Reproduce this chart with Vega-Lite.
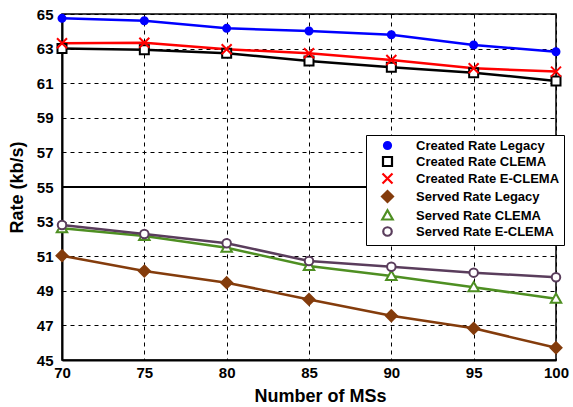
{
  "$schema": "https://vega.github.io/schema/vega-lite/v6.json",
  "width": 494,
  "height": 346,
  "autosize": {"type": "none"},
  "padding": {"left": 62, "top": 14, "right": 17, "bottom": 47},
  "config": {
    "font": "Liberation Sans",
    "view": {"stroke": "#000000", "strokeWidth": 1.5},
    "axis": {
      "labelFont": "Liberation Sans",
      "labelFontWeight": "bold",
      "labelFontSize": 15,
      "labelColor": "#000000",
      "labelFlush": false,
      "titleFont": "Liberation Sans",
      "titleFontWeight": "bold",
      "titleFontSize": 18,
      "titleColor": "#000000",
      "grid": true,
      "gridColor": "#000000",
      "gridDash": [4, 4],
      "gridWidth": 1,
      "gridOpacity": 1,
      "ticks": false,
      "domainColor": "#000000",
      "domainWidth": 2
    }
  },
  "data": {
    "values": [
      {"x": 70, "series": "Created Rate Legacy", "v": 64.75},
      {"x": 75, "series": "Created Rate Legacy", "v": 64.61},
      {"x": 80, "series": "Created Rate Legacy", "v": 64.17},
      {"x": 85, "series": "Created Rate Legacy", "v": 64.02},
      {"x": 90, "series": "Created Rate Legacy", "v": 63.8},
      {"x": 95, "series": "Created Rate Legacy", "v": 63.21},
      {"x": 100, "series": "Created Rate Legacy", "v": 62.82},
      {"x": 70, "series": "Created Rate CLEMA", "v": 63.0},
      {"x": 75, "series": "Created Rate CLEMA", "v": 62.93},
      {"x": 80, "series": "Created Rate CLEMA", "v": 62.73},
      {"x": 85, "series": "Created Rate CLEMA", "v": 62.28},
      {"x": 90, "series": "Created Rate CLEMA", "v": 61.92},
      {"x": 95, "series": "Created Rate CLEMA", "v": 61.61},
      {"x": 100, "series": "Created Rate CLEMA", "v": 61.13},
      {"x": 70, "series": "Created Rate E-CLEMA", "v": 63.31},
      {"x": 75, "series": "Created Rate E-CLEMA", "v": 63.34},
      {"x": 80, "series": "Created Rate E-CLEMA", "v": 62.96},
      {"x": 85, "series": "Created Rate E-CLEMA", "v": 62.73},
      {"x": 90, "series": "Created Rate E-CLEMA", "v": 62.34},
      {"x": 95, "series": "Created Rate E-CLEMA", "v": 61.86},
      {"x": 100, "series": "Created Rate E-CLEMA", "v": 61.67},
      {"x": 70, "series": "Served Rate Legacy", "v": 51.03},
      {"x": 75, "series": "Served Rate Legacy", "v": 50.14},
      {"x": 80, "series": "Served Rate Legacy", "v": 49.47},
      {"x": 85, "series": "Served Rate Legacy", "v": 48.5},
      {"x": 90, "series": "Served Rate Legacy", "v": 47.56},
      {"x": 95, "series": "Served Rate Legacy", "v": 46.83},
      {"x": 100, "series": "Served Rate Legacy", "v": 45.71},
      {"x": 70, "series": "Served Rate CLEMA", "v": 52.61},
      {"x": 75, "series": "Served Rate CLEMA", "v": 52.17},
      {"x": 80, "series": "Served Rate CLEMA", "v": 51.49},
      {"x": 85, "series": "Served Rate CLEMA", "v": 50.43},
      {"x": 90, "series": "Served Rate CLEMA", "v": 49.86},
      {"x": 95, "series": "Served Rate CLEMA", "v": 49.2},
      {"x": 100, "series": "Served Rate CLEMA", "v": 48.54},
      {"x": 70, "series": "Served Rate E-CLEMA", "v": 52.8},
      {"x": 75, "series": "Served Rate E-CLEMA", "v": 52.28},
      {"x": 80, "series": "Served Rate E-CLEMA", "v": 51.75},
      {"x": 85, "series": "Served Rate E-CLEMA", "v": 50.72},
      {"x": 90, "series": "Served Rate E-CLEMA", "v": 50.39},
      {"x": 95, "series": "Served Rate E-CLEMA", "v": 50.05},
      {"x": 100, "series": "Served Rate E-CLEMA", "v": 49.78}
    ]
  },
  "encoding": {
    "x": {
      "field": "x",
      "type": "quantitative",
      "scale": {"domain": [70, 100], "nice": false, "zero": false},
      "axis": {
        "values": [70, 75, 80, 85, 90, 95, 100],
        "title": "Number of MSs",
        "labelPadding": 5,
        "titleX": 258,
        "titleY": 27,
        "titleBaseline": "top"
      }
    },
    "y": {
      "field": "v",
      "type": "quantitative",
      "scale": {"domain": [45, 65], "nice": false, "zero": false},
      "axis": {
        "values": [45, 47, 49, 51, 53, 55, 57, 59, 61, 63, 65],
        "title": "Rate (kb/s)",
        "labelPadding": 9,
        "titleX": -36,
        "titleBaseline": "bottom"
      }
    }
  },
  "layer": [
    {
      "mark": {"type": "rule", "color": "#000000", "strokeWidth": 1.2},
      "encoding": {"y": {"datum": 55}, "x": {"value": 0}, "x2": {"value": 494}}
    },
    {
      "mark": {"type": "line", "strokeWidth": 2.5},
      "encoding": {
        "color": {
          "field": "series",
          "type": "nominal",
          "sort": ["Created Rate Legacy", "Created Rate CLEMA", "Created Rate E-CLEMA", "Served Rate Legacy", "Served Rate CLEMA", "Served Rate E-CLEMA"],
          "scale": {
            "range": ["#0000FF", "#000000", "#FF0000", "#843C0C", "#4E8F22", "#5A3D5C"]
          },
          "legend": null
        }
      }
    },
    {
      "mark": {"type": "point", "strokeWidth": 2, "opacity": 1, "filled": false, "size": 100},
      "encoding": {
        "shape": {
          "field": "series",
          "type": "nominal",
          "scale": {
            "domain": ["Created Rate Legacy", "Created Rate CLEMA", "Created Rate E-CLEMA", "Served Rate Legacy", "Served Rate CLEMA", "Served Rate E-CLEMA"],
            "range": [
              "M0.7,0A0.7,0.7 0 1,1 -0.7,0A0.7,0.7 0 1,1 0.7,0Z",
              "M-0.9,-0.9H0.9V0.9H-0.9Z",
              "M-1,-1L1,1M-1,1L1,-1",
              "M0,-1.1L1.1,0L0,1.1L-1.1,0Z",
              "M0,-1.05L1.05,0.8H-1.05Z",
              "M0.85,0A0.85,0.85 0 1,1 -0.85,0A0.85,0.85 0 1,1 0.85,0Z"
            ]
          },
          "legend": {
            "title": null,
            "orient": "none",
            "legendX": 304,
            "legendY": 121,
            "strokeColor": "#000000",
            "fillColor": "#FFFFFF",
            "padding": 4,
            "symbolSize": 100,
            "symbolStrokeWidth": 2.2,
            "symbolOffset": 11,
            "labelFont": "Liberation Sans",
            "labelFontWeight": "bold",
            "labelFontSize": 13,
            "labelColor": "#000000",
            "labelOffset": 22,
            "rowPadding": -2
          }
        },
        "fill": {
          "field": "series",
          "type": "nominal",
          "scale": {
            "domain": ["Created Rate Legacy", "Created Rate CLEMA", "Created Rate E-CLEMA", "Served Rate Legacy", "Served Rate CLEMA", "Served Rate E-CLEMA"],
            "range": ["#0000FF", "#FFFFFF", "#FF0000", "#843C0C", "#FFFFFF", "#FFFFFF"]
          }
        },
        "stroke": {
          "field": "series",
          "type": "nominal",
          "scale": {
            "domain": ["Created Rate Legacy", "Created Rate CLEMA", "Created Rate E-CLEMA", "Served Rate Legacy", "Served Rate CLEMA", "Served Rate E-CLEMA"],
            "range": ["#0000FF", "#000000", "#FF0000", "#843C0C", "#4E8F22", "#5A3D5C"]
          }
        }
      }
    }
  ]
}
